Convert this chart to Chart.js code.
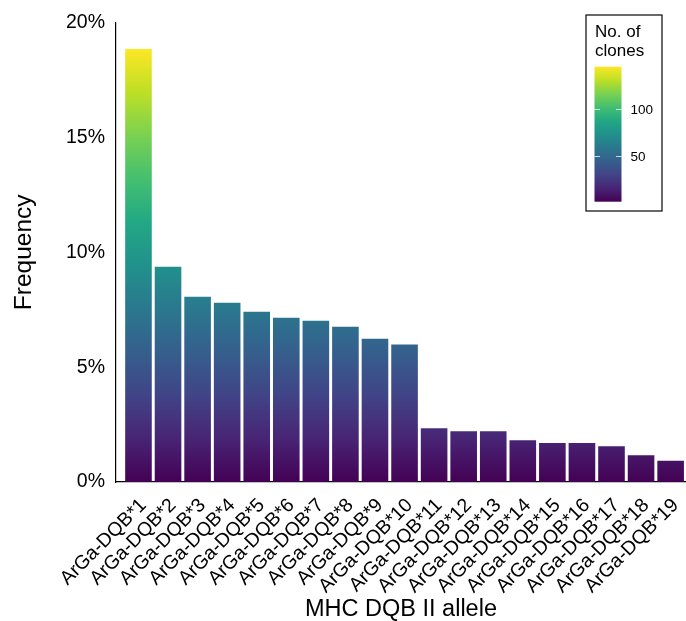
<!DOCTYPE html>
<html>
<head>
<meta charset="utf-8">
<script src="https://cdn.jsdelivr.net/npm/chart.js@4.4.1/dist/chart.umd.min.js"></script>
<style>
  html, body { margin: 0; padding: 0; background: #ffffff; }
  #wrap { width: 686px; height: 621px; }
</style>
</head>
<body>
<div id="wrap"><canvas id="c" width="686" height="621"></canvas></div>
<script>
// ---- data ----
const alleles = [
  "ArGa-DQB*1", "ArGa-DQB*2", "ArGa-DQB*3", "ArGa-DQB*4", "ArGa-DQB*5",
  "ArGa-DQB*6", "ArGa-DQB*7", "ArGa-DQB*8", "ArGa-DQB*9", "ArGa-DQB*10",
  "ArGa-DQB*11", "ArGa-DQB*12", "ArGa-DQB*13", "ArGa-DQB*14", "ArGa-DQB*15",
  "ArGa-DQB*16", "ArGa-DQB*17", "ArGa-DQB*18", "ArGa-DQB*19"
];
const frequency = [18.85, 9.37, 8.07, 7.81, 7.41, 7.15, 7.02, 6.76, 6.24, 5.99,
                   2.34, 2.21, 2.21, 1.82, 1.70, 1.70, 1.56, 1.17, 0.92];
const yTicks = [0, 5, 10, 15, 20];
const colorbarTitle = ["No. of", "clones"];
const colorbarRange = [1, 145];
const colorbarTicks = [50, 100];

// viridis palette stops
const viridis = ["#440154", "#482475", "#414487", "#355f8d", "#2a788e", "#21918c",
                 "#22a884", "#44bf70", "#7ad151", "#bddf26", "#fde725"];

const FONT = "'Liberation Sans', Arial, Helvetica, sans-serif";

function addStops(g) {
  viridis.forEach((c, i) => g.addColorStop(i / (viridis.length - 1), c));
  return g;
}

const maxFreq = Math.max(...frequency);

function barGradient(context) {
  const chart = context.chart;
  const ys = chart.scales.y;
  if (!chart.chartArea || !ys) return viridis[0];
  const y0 = ys.getPixelForValue(0);
  const y1 = ys.getPixelForValue(maxFreq);
  return addStops(chart.ctx.createLinearGradient(0, y0, 0, y1));
}

const colorbarPlugin = {
  id: 'colorbar',
  afterDraw(chart) {
    const ctx = chart.ctx;
    ctx.save();
    // legend frame
    const bx = 586, by = 15, bw = 76, bh = 196;
    ctx.strokeStyle = '#1a1a1a';
    ctx.lineWidth = 1.3;
    ctx.strokeRect(bx, by, bw, bh);
    // title
    ctx.fillStyle = '#000';
    ctx.font = '17px ' + FONT;
    ctx.textAlign = 'left';
    ctx.textBaseline = 'middle';
    colorbarTitle.forEach((t, i) => ctx.fillText(t, 595, 32.5 + i * 18.7));
    // bar
    const cx = 594.5, cw = 27, cTop = 66.7, cBot = 201.7;
    const g = addStops(ctx.createLinearGradient(0, cBot, 0, cTop));
    ctx.fillStyle = g;
    ctx.fillRect(cx, cTop, cw, cBot - cTop);
    // ticks
    const [vmin, vmax] = colorbarRange;
    const pix = v => cBot - (v - vmin) / (vmax - vmin) * (cBot - cTop);
    ctx.strokeStyle = 'rgba(255,255,255,0.75)';
    ctx.lineWidth = 1;
    ctx.font = '13.5px ' + FONT;
    ctx.fillStyle = '#000';
    colorbarTicks.forEach(v => {
      const y = Math.round(pix(v)) + 0.5;
      ctx.beginPath();
      ctx.moveTo(cx, y); ctx.lineTo(cx + 5.5, y);
      ctx.moveTo(cx + cw - 5.5, y); ctx.lineTo(cx + cw, y);
      ctx.stroke();
      ctx.fillText(String(v), 630.5, y + 0.5);
    });
    ctx.restore();
  }
};

new Chart(document.getElementById('c'), {
  type: 'bar',
  data: {
    datasets: [{
      data: frequency.map((v, i) => ({ x: i + 1, y: v })),
      backgroundColor: barGradient,
      borderWidth: 0,
      barPercentage: 0.9,
      categoryPercentage: 1.0
    }]
  },
  options: {
    responsive: false,
    animation: false,
    layout: { padding: { top: 22, right: 0, left: 0, bottom: 0 } },
    plugins: { legend: { display: false }, tooltip: { enabled: false } },
    scales: {
      x: {
        type: 'linear',
        min: 0.24,
        max: 19.52,
        offset: false,
        grid: { display: false, drawTicks: false },
        border: { display: true, color: '#000', width: 1.2 },
        afterBuildTicks: s => { s.ticks = alleles.map((_, i) => ({ value: i + 1 })); },
        afterFit: s => { s.height = 139; s.paddingLeft = 0; s.paddingRight = 0; },
        ticks: {
          autoSkip: false,
          minRotation: 45,
          maxRotation: 45,
          padding: 12,
          labelOffset: 5,
          color: '#000',
          font: { family: FONT, size: 19.5 },
          callback: v => alleles[v - 1] ?? ''
        },
        title: {
          display: true,
          text: 'MHC DQB II allele',
          color: '#000',
          font: { family: FONT, size: 23.5, lineHeight: 1 },
          padding: { top: 0, bottom: 0 }
        }
      },
      y: {
        min: 0,
        max: 20,
        grid: { display: false, drawTicks: false },
        border: { display: true, color: '#000', width: 1.2 },
        afterBuildTicks: s => { s.ticks = yTicks.map(v => ({ value: v })); },
        afterFit: s => { s.width = 116; },
        ticks: {
          padding: 11,
          color: '#000',
          font: { family: FONT, size: 19.5 },
          callback: v => v + '%'
        },
        title: {
          display: true,
          text: 'Frequency',
          color: '#000',
          font: { family: FONT, size: 24.5 },
          padding: { top: 10, bottom: 0 }
        }
      }
    }
  },
  plugins: [colorbarPlugin]
});
</script>
</body>
</html>
